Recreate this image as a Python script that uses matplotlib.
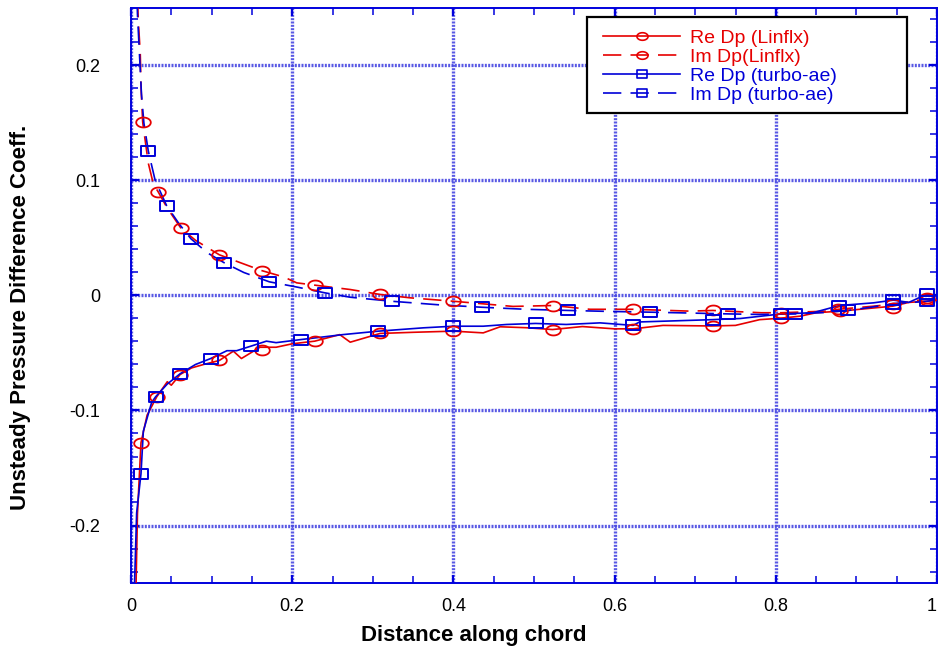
import numpy as np
import matplotlib
matplotlib.use("Agg")
import matplotlib.pyplot as plt
from matplotlib.path import Path
from matplotlib.lines import Line2D
from matplotlib.patches import Rectangle
from matplotlib.ticker import MultipleLocator

plt.rcParams['font.family'] = ['Liberation Sans', 'DejaVu Sans']

# ---------------- data ----------------
# Re Dp (Linflx) - line
re_lin_x = [0.006, 0.008, 0.0124, 0.02, 0.032, 0.045, 0.05, 0.061, 0.075, 0.09, 0.1096, 0.127, 0.137,
            0.16, 0.18, 0.2, 0.228, 0.259, 0.272, 0.309, 0.35, 0.4, 0.437, 0.458, 0.49, 0.523, 0.56,
            0.6, 0.623, 0.66, 0.72, 0.75, 0.78, 0.807, 0.83, 0.85, 0.88, 0.91, 0.945, 0.965, 0.987, 1.0]
re_lin_y = [-0.26, -0.19, -0.128, -0.104, -0.088, -0.075, -0.078, -0.0687, -0.063, -0.060, -0.0565,
            -0.0484, -0.0548, -0.045, -0.045, -0.042, -0.0397, -0.034, -0.0406, -0.033, -0.032, -0.031,
            -0.0325, -0.0272, -0.028, -0.0296, -0.027, -0.029, -0.029, -0.026, -0.0265, -0.026, -0.021,
            -0.0197, -0.018, -0.015, -0.0136, -0.0116, -0.0093, -0.006, -0.005, -0.004]
re_lin_mx = [0.0124, 0.032, 0.061, 0.1096, 0.162, 0.228, 0.309, 0.4, 0.523, 0.623, 0.7216, 0.807, 0.88, 0.945, 0.987]
re_lin_my = [-0.128, -0.088, -0.0687, -0.0565, -0.047, -0.0397, -0.033, -0.031, -0.0296, -0.029, -0.0267,
             -0.0197, -0.0136, -0.0105, -0.004]

# Im Dp (Linflx) - line
im_lin_x = [0.006, 0.009, 0.0115, 0.0125, 0.0145, 0.0215, 0.0277, 0.034, 0.045, 0.062, 0.08, 0.1096, 0.13,
            0.162, 0.19, 0.2056, 0.228, 0.272, 0.309, 0.346, 0.4, 0.474, 0.523, 0.5695, 0.623, 0.6935,
            0.7216, 0.782, 0.807, 0.863, 0.8775, 0.921, 0.946, 0.987, 1.0]
im_lin_y = [0.30, 0.24, 0.21, 0.18, 0.1507, 0.115, 0.097, 0.0898, 0.076, 0.0585, 0.048, 0.0354, 0.030,
            0.0217, 0.016, 0.011, 0.009, 0.0052, 0.0009, -0.002, -0.005, -0.0095, -0.0087, -0.012, -0.012,
            -0.0136, -0.013, -0.015, -0.015, -0.0136, -0.012, -0.0093, -0.0075, -0.003, -0.003]
im_lin_mx = [0.0145, 0.034, 0.062, 0.1096, 0.162, 0.228, 0.309, 0.4, 0.523, 0.623, 0.7216, 0.807, 0.8775, 0.946, 0.987]
im_lin_my = [0.1507, 0.0898, 0.0585, 0.0354, 0.0217, 0.009, 0.0009, -0.005, -0.0087, -0.012, -0.013, -0.015,
             -0.012, -0.0075, -0.002]

# Re Dp (turbo-ae) - line
re_tae_x = [0.004, 0.007, 0.0124, 0.0153, 0.0256, 0.0306, 0.045, 0.061, 0.08, 0.0989, 0.119, 0.131, 0.149,
            0.168, 0.18, 0.211, 0.263, 0.307, 0.363, 0.4, 0.437, 0.466, 0.502, 0.54, 0.582, 0.623, 0.631,
            0.7216, 0.756, 0.807, 0.846, 0.879, 0.921, 0.946, 0.965, 0.987, 1.0]
re_tae_y = [-0.26, -0.189, -0.155, -0.118, -0.093, -0.088, -0.077, -0.068, -0.060, -0.0548, -0.048, -0.048,
            -0.044, -0.0397, -0.041, -0.0383, -0.034, -0.031, -0.0281, -0.0267, -0.0267, -0.0252, -0.0243,
            -0.0252, -0.0238, -0.026, -0.023, -0.021, -0.020, -0.016, -0.015, -0.0087, -0.0064, -0.004,
            -0.006, 0.001, -0.0005]
re_tae_mx = [0.0124, 0.0306, 0.061, 0.0989, 0.149, 0.211, 0.307, 0.4, 0.502, 0.623, 0.7216, 0.807, 0.879, 0.946, 0.987]
re_tae_my = [-0.155, -0.088, -0.068, -0.0548, -0.044, -0.0383, -0.031, -0.0267, -0.0243, -0.026, -0.0209,
             -0.016, -0.0087, -0.004, 0.0009]

# Im Dp (turbo-ae) - line
im_tae_x = [0.006, 0.008, 0.0105, 0.013, 0.016, 0.0215, 0.03, 0.0443, 0.06, 0.0744, 0.095, 0.1158, 0.14,
            0.1716, 0.204, 0.2407, 0.272, 0.3234, 0.38, 0.435, 0.49, 0.5425, 0.59, 0.644, 0.69, 0.741,
            0.78, 0.824, 0.86, 0.89, 0.92, 0.946, 0.97, 0.987, 1.0]
im_tae_y = [0.30, 0.245, 0.21, 0.175, 0.15, 0.1255, 0.10, 0.078, 0.062, 0.0493, 0.037, 0.0284, 0.020,
            0.0119, 0.0076, 0.0023, -0.0015, -0.005, -0.008, -0.0102, -0.012, -0.013, -0.0138, -0.0145,
            -0.0152, -0.016, -0.0165, -0.016, -0.0148, -0.013, -0.010, -0.007, -0.006, -0.005, -0.004]
im_tae_mx = [0.0215, 0.0443, 0.0744, 0.1158, 0.1716, 0.2407, 0.3234, 0.435, 0.5425, 0.644, 0.741, 0.824, 0.89, 0.946, 0.987]
im_tae_my = [0.1255, 0.078, 0.0493, 0.0284, 0.0119, 0.0023, -0.005, -0.0102, -0.013, -0.0145, -0.016,
             -0.016, -0.013, -0.007, -0.005]

labels = ["Re Dp (Linflx)", "Im Dp(Linflx)", "Re Dp (turbo-ae)", "Im Dp (turbo-ae)"]
x_ticks = [0, 0.2, 0.4, 0.6, 0.8, 1.0]
x_ticklabels = ["0", "0.2", "0.4", "0.6", "0.8", "1"]
y_ticks = [-0.2, -0.1, 0, 0.1, 0.2]
y_ticklabels = ["-0.2", "-0.1", "0", "0.1", "0.2"]

# ---------------- style ----------------
RED = '#e60000'
BLUE = '#0000d8'
AXC = '#0000dd'
GRIDC = '#4646e2'

# elliptical markers (wider than tall)
t = np.linspace(0, 2 * np.pi, 60)
ell = Path(np.column_stack([np.cos(t), 0.68 * np.sin(t)]), closed=True)
rect = Path([(-1, -0.72), (1, -0.72), (1, 0.72), (-1, 0.72), (-1, -0.72)], closed=True)

W, H = 938, 652
fig = plt.figure(figsize=(W / 100, H / 100), dpi=100)
ax = fig.add_axes([131 / W, 1 - 583 / H, (937 - 131) / W, (583 - 8) / H])

dash = (0, (11, 5.5))
lw = 1.2
ms = 10.5

ax.plot(re_lin_x, re_lin_y, color=RED, lw=lw, zorder=3)
ax.plot(re_lin_mx, re_lin_my, ls='none', marker=ell, ms=ms, mfc='none', mec=RED, mew=1.3, zorder=4)
ax.plot(im_lin_x, im_lin_y, color=RED, lw=lw, ls=dash, zorder=3)
ax.plot(im_lin_mx, im_lin_my, ls='none', marker=ell, ms=ms, mfc='none', mec=RED, mew=1.3, zorder=4)
ax.plot(re_tae_x, re_tae_y, color=BLUE, lw=lw, zorder=3)
ax.plot(re_tae_mx, re_tae_my, ls='none', marker=rect, ms=ms * 0.95, mfc='none', mec=BLUE, mew=1.4, zorder=4)
ax.plot(im_tae_x, im_tae_y, color=BLUE, lw=lw, ls=dash, zorder=3)
ax.plot(im_tae_mx, im_tae_my, ls='none', marker=rect, ms=ms * 0.95, mfc='none', mec=BLUE, mew=1.4, zorder=4)

ax.set_xlim(0, 1)
ax.set_ylim(-0.25, 0.25)
ax.set_xticks(x_ticks)
ax.set_xticklabels(x_ticklabels)
ax.set_yticks(y_ticks)
ax.set_yticklabels(y_ticklabels)
ax.xaxis.set_minor_locator(MultipleLocator(0.05))
ax.yaxis.set_minor_locator(MultipleLocator(0.02))
ax.tick_params(which='both', direction='in', top=True, right=True, color=AXC, labelsize=13)
ax.tick_params(which='major', length=6, width=1.6)
ax.tick_params(which='minor', length=5, width=1.1)
ax.tick_params(axis='x', which='major', pad=11)
ax.tick_params(axis='y', which='major', pad=22)
ax.get_xticklabels()[-1].set_horizontalalignment('right')
for sp in ax.spines.values():
    sp.set_color(AXC)
    sp.set_linewidth(1.4)
ax.grid(True, which='major', color=GRIDC, lw=2.4, ls=(0, (0.6, 0.4)), alpha=0.9, zorder=1)
ax.set_axisbelow(True)

fig.text(474 / W, 1 - 635 / H, "Distance along chord", ha='center', va='center',
         fontsize=16, fontweight='bold')
fig.text(21 / W, 1 - 317 / H, "Unsteady Pressure Difference Coeff.", ha='center', va='center',
         rotation=90, fontsize=16, fontweight='bold')

# legend frame
frame = Rectangle((586.7 / W, 1 - 113.3 / H), (906.7 - 586.7) / W, (113.3 - 17.3) / H,
                  transform=fig.transFigure, facecolor='white', edgecolor='black', lw=1.6, zorder=5)
fig.patches.append(frame)

handles = [
    Line2D([], [], color=RED, lw=lw, marker=ell, ms=8, mfc='none', mec=RED, mew=1.2),
    Line2D([], [], color=RED, lw=lw, ls=dash, marker=ell, ms=8, mfc='none', mec=RED, mew=1.2),
    Line2D([], [], color=BLUE, lw=lw, marker=rect, ms=7.5, mfc='none', mec=BLUE, mew=1.2),
    Line2D([], [], color=BLUE, lw=lw, ls=dash, marker=rect, ms=7.5, mfc='none', mec=BLUE, mew=1.2),
]
leg = fig.legend(handles, labels, loc='upper left',
                 bbox_to_anchor=(603 / W, 1 - 29 / H),
                 fontsize=14, frameon=False, handlelength=3.96, handletextpad=0.5,
                 borderpad=0, labelspacing=0.08, borderaxespad=0)
leg.set_zorder(6)
for txt, c in zip(leg.get_texts(), [RED, RED, BLUE, BLUE]):
    txt.set_color(c)

fig.savefig("out.png", dpi=100)
